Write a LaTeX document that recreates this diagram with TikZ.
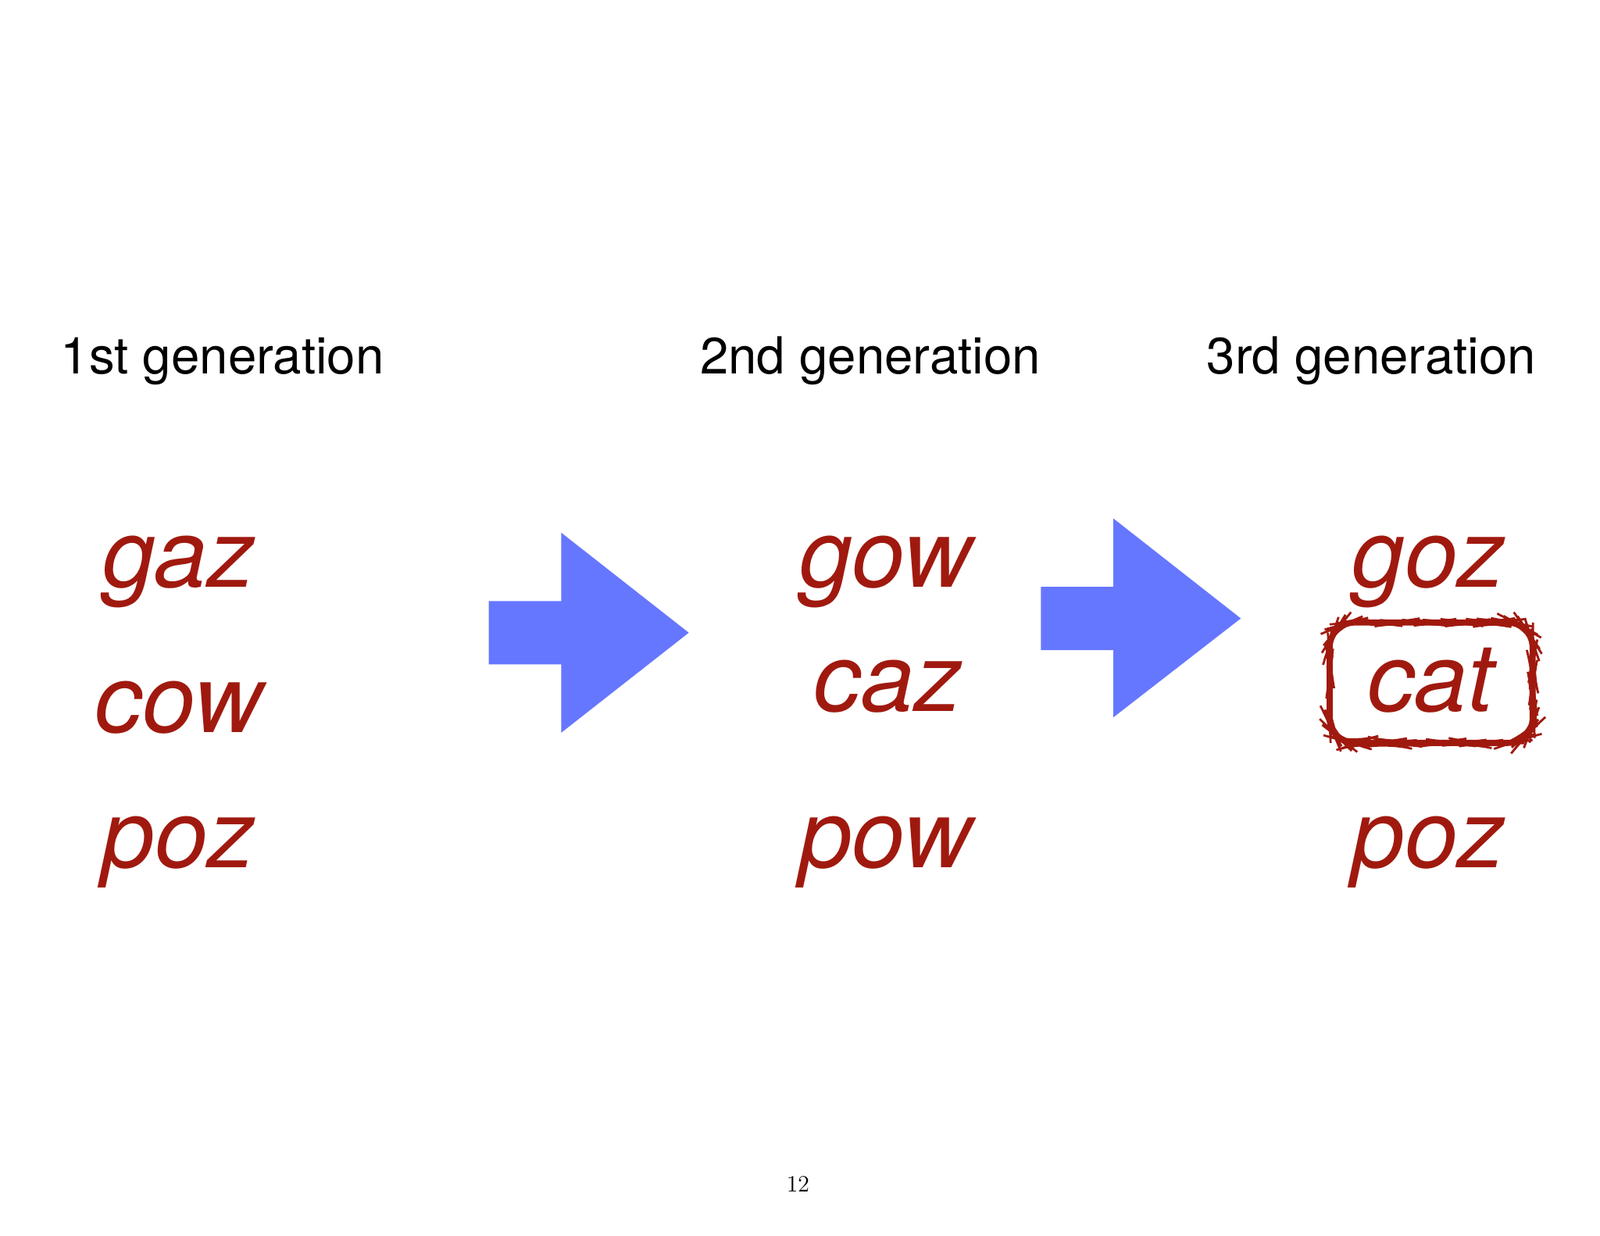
\documentclass[tikz,border=0pt]{standalone}
\usepackage{fontspec}
\setmainfont{TeX Gyre Heros}
\usetikzlibrary{decorations.pathmorphing}
\definecolor{wred}{HTML}{A0190F}
\definecolor{ablue}{HTML}{6677FF}
\tikzset{
  gen/.style={anchor=base,font=\fontsize{28.5}{28.5}\selectfont,text=black,inner sep=0},
  word/.style={anchor=base,font=\fontsize{53}{53}\selectfont\itshape,text=wred,inner sep=0},
}
\begin{document}
\begin{tikzpicture}[x=0.02cm,y=-0.02cm]
\useasboundingbox[fill=white] (0,0) rectangle (1568,1211);
\node[gen] (g1) at (218,366) {1st generation};
\node[gen] (g2) at (853,366) {2nd generation};
\node[gen] (g3) at (1344,366) {3rd generation};
\node[word] (a1) at (175,575) {gaz};
\node[word] (a2) at (175,718) {cow};
\node[word] (a3) at (175,850) {poz};
\node[word] (b1) at (868,575) {gow};
\node[word] (b2) at (870,697) {caz};
\node[word] (b3) at (868,850) {pow};
\node[word] (c1) at (1400,575) {goz};
\node[word] (c2) at (1402,697) {cat};
\node[word] (c3) at (1400,850) {poz};
\fill[ablue] (479,589) -- (550,589) -- (550,522) -- (675,620) -- (550,718) -- (550,651) -- (479,651) -- cycle;
\fill[ablue] (1020,575) -- (1091,575) -- (1091,508) -- (1216,606) -- (1091,703) -- (1091,637) -- (1020,637) -- cycle;
\draw[wred,line width=3.4pt,rounded corners=14pt] (1303,610) rectangle (1502,728);
\draw[wred,line width=1.2pt,decorate,decoration={random steps,segment length=3pt,amplitude=0.5pt},rounded corners=14pt] (1303,610) rectangle (1502,728);
\node[anchor=base,font=\fontspec{Latin Modern Roman}\fontsize{13}{13}\selectfont,inner sep=0] (pg) at (782,1168) {12};
\end{tikzpicture}
\end{document}
